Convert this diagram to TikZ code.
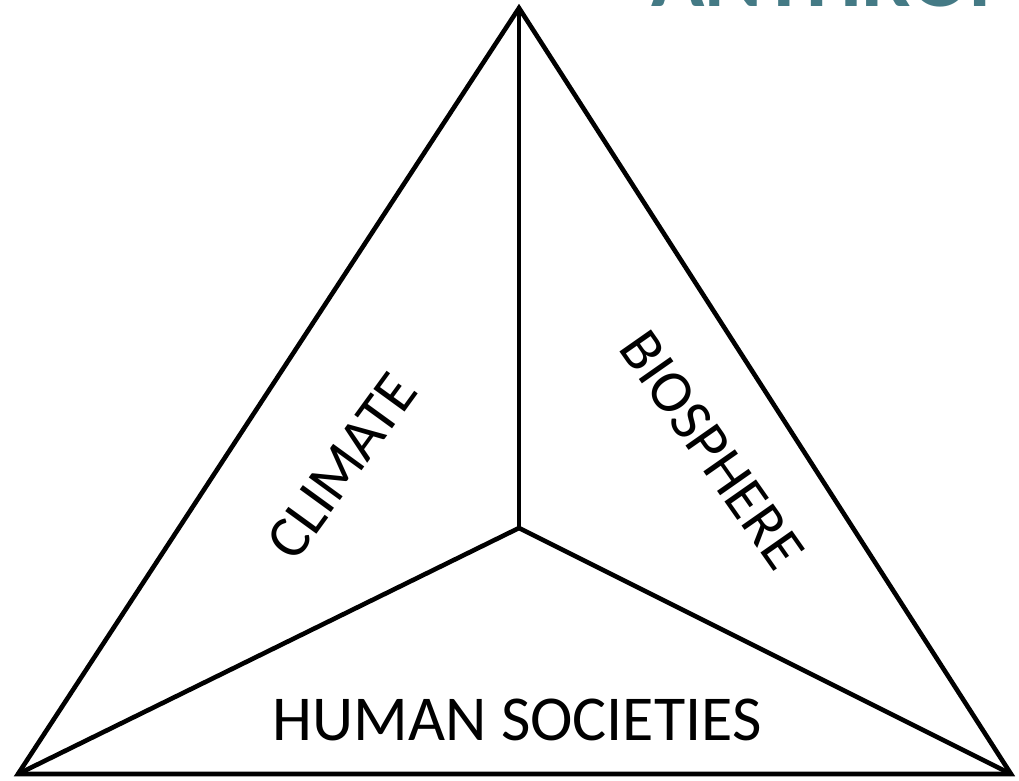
\documentclass[tikz,border=0pt]{standalone}
\usepackage{fontspec}
\setmainfont{Carlito}
\usepackage{tikz}
\usetikzlibrary{positioning,calc}
\definecolor{titleteal}{HTML}{447A85}
\tikzset{
  edge/.style={draw=black, line width=4.6pt, line join=miter},
  sector/.style={inner sep=0pt, font=\fontsize{60}{63}\selectfont},
  bottomlabel/.style={inner sep=0pt, font=\fontsize{64}{68}\selectfont},
  title/.style={inner sep=0pt, text=titleteal, font=\fontsize{88}{92}\selectfont\bfseries}
}

\begin{document}
\begin{tikzpicture}[x=1pt,y=-1pt]
\useasboundingbox (0,0) rectangle (1019,780);
\clip (0,0) rectangle (1019,780);
% corners of the triangle
\coordinate (apex) at (519,8);
\coordinate (left) at (18,774);
\coordinate (right) at (1011,774);
\coordinate (centre) at (519,528);
\node[title, anchor=base west] (heading) at (651,6) {ANTHROPOCENE};
\draw[edge] (apex) -- (left) -- (right) -- cycle;
\draw[edge] (apex) -- (centre);
\draw[edge] (centre) -- (left);
\draw[edge] (centre) -- (right);
\node[sector, rotate=54] (climate) at (342,466) {CLIMATE};
\node[sector, rotate=-55] (bio) at (712,450) {BIOSPHERE};
\node[bottomlabel, anchor=base] (human) at (517,740) {HUMAN SOCIETIES};
\end{tikzpicture}
\end{document}
